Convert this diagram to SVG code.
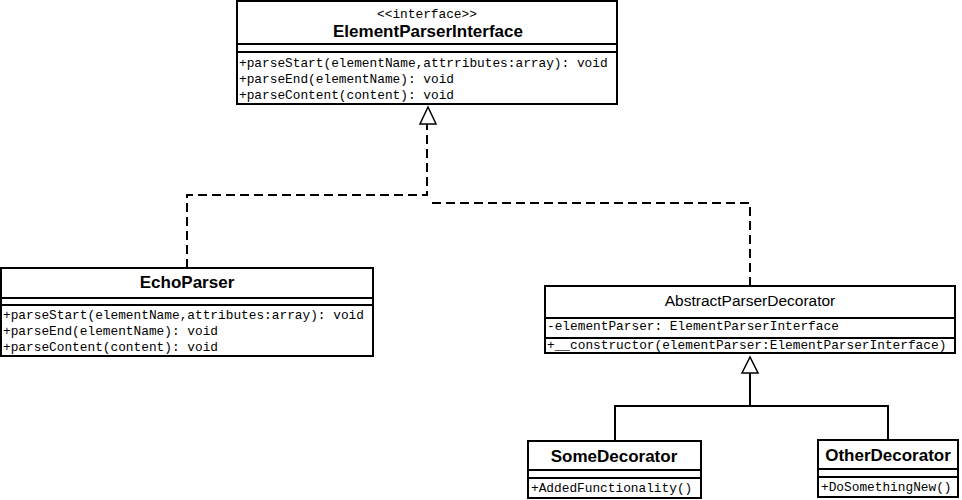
<svg xmlns="http://www.w3.org/2000/svg" width="962" height="500" viewBox="0 0 962 500">
<style>
.box{fill:#fff;stroke:#000;stroke-width:2}
.sep{stroke:#000;stroke-width:2}
.title{font-family:"Liberation Sans",Arial,sans-serif;font-weight:bold;font-size:17px;text-anchor:middle;fill:#000}
.name{font-family:"Liberation Sans",Arial,sans-serif;font-size:15.5px;text-anchor:middle;fill:#000}
.mono{font-family:"Liberation Mono","Courier New",monospace;font-size:12.8px;fill:#000}
.dash{fill:none;stroke:#000;stroke-width:2;stroke-dasharray:9,5}
.solid{fill:none;stroke:#000;stroke-width:2}
.tri{fill:#fff;stroke:#000;stroke-width:1.5}
</style>
<g id="connectors">
<path class="dash" d="M187,268 V195 H427 V124"/>
<path class="dash" d="M750,286 V203 H427"/>
<polygon class="tri" points="428,107 420,124 436,124"/>
<path class="solid" d="M615,441 V406 H888 V440"/>
<path class="solid" d="M750,406 V373"/>
<polygon class="tri" points="750,357 742,373 758,373"/>
</g>
<g id="ElementParserInterface">
<rect class="box" x="237" y="1" width="380" height="103"/>
<line class="sep" x1="237" y1="44" x2="617" y2="44"/>
<line class="sep" x1="237" y1="52" x2="617" y2="52"/>
<text class="mono" x="427" y="18" text-anchor="middle">&lt;&lt;interface&gt;&gt;</text>
<text class="title" x="428" y="37">ElementParserInterface</text>
<text class="mono" x="239" y="67">+parseStart(elementName,attrributes:array): void</text>
<text class="mono" x="239" y="83">+parseEnd(elementName): void</text>
<text class="mono" x="239" y="99">+parseContent(content): void</text>
</g>
<g id="EchoParser">
<rect class="box" x="1" y="268" width="372" height="88"/>
<line class="sep" x1="1" y1="298" x2="373" y2="298"/>
<line class="sep" x1="1" y1="305" x2="373" y2="305"/>
<text class="title" x="187" y="288">EchoParser</text>
<text class="mono" x="3" y="319">+parseStart(elementName,attributes:array): void</text>
<text class="mono" x="3" y="335">+parseEnd(elementName): void</text>
<text class="mono" x="3" y="351">+parseContent(content): void</text>
</g>
<g id="AbstractParserDecorator">
<rect class="box" x="545" y="286" width="410" height="67"/>
<line class="sep" x1="545" y1="318" x2="955" y2="318"/>
<line class="sep" x1="545" y1="338" x2="955" y2="338"/>
<text class="name" x="750" y="306">AbstractParserDecorator</text>
<text class="mono" x="547" y="330">-elementParser: ElementParserInterface</text>
<text class="mono" x="547" y="349">+__constructor(elementParser:ElementParserInterface)</text>
</g>
<g id="SomeDecorator">
<rect class="box" x="528" y="441" width="173" height="57"/>
<line class="sep" x1="528" y1="470" x2="701" y2="470"/>
<line class="sep" x1="528" y1="478" x2="701" y2="478"/>
<text class="title" x="614" y="462">SomeDecorator</text>
<text class="mono" x="531" y="492">+AddedFunctionality()</text>
</g>
<g id="OtherDecorator">
<rect class="box" x="818" y="440" width="140" height="57"/>
<line class="sep" x1="818" y1="469" x2="958" y2="469"/>
<line class="sep" x1="818" y1="477" x2="958" y2="477"/>
<text class="title" x="888" y="461">OtherDecorator</text>
<text class="mono" x="821" y="491">+DoSomethingNew()</text>
</g>
</svg>
